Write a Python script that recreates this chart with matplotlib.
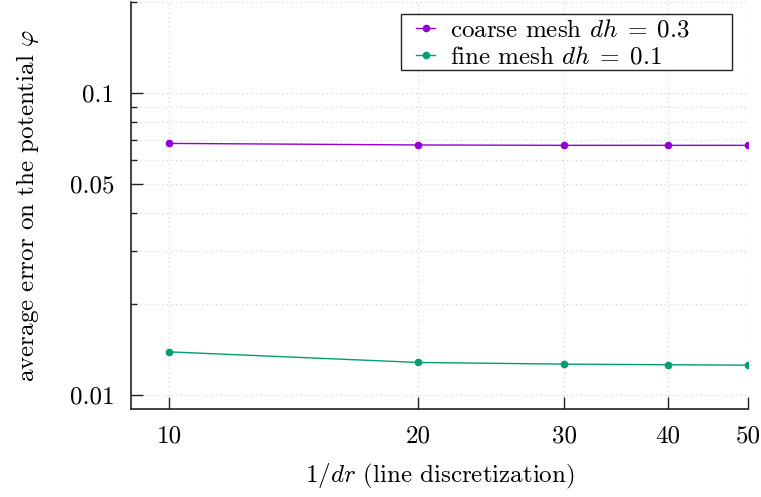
import matplotlib
matplotlib.use("Agg")
import matplotlib.pyplot as plt
from matplotlib.patches import Rectangle
from matplotlib.ticker import FixedLocator, NullLocator, NullFormatter

plt.rcParams['font.family'] = ['cmr10']
plt.rcParams['mathtext.fontset'] = 'cm'
plt.rcParams['axes.formatter.use_mathtext'] = True

x_vals = [10, 20, 30, 40, 50]
coarse = [0.0681, 0.0673, 0.0671, 0.0671, 0.0671]
fine = [0.01391, 0.01283, 0.01267, 0.01261, 0.01257]
x_ticks = [10, 20, 30, 40, 50]
x_ticklabels = ['10', '20', '30', '40', '50']
y_ticks = [0.01, 0.05, 0.1]
y_ticklabels = ['0.01', '0.05', '0.1']
y_minor = [0.02, 0.03, 0.04, 0.06, 0.07, 0.08, 0.09, 0.2]

purple = '#9400d3'
green = '#009e73'
FS = 18
W, H = 761, 497

fig = plt.figure(figsize=(7.61, 4.97), dpi=100)
ax = fig.add_axes([131/W, 1-409/H, (748-131)/W, (409-2)/H])
ax.set_xscale('log')
ax.set_yscale('log')

ax.plot(x_vals, coarse, '-o', color=purple, lw=1.0, ms=4.5,
        label=r'coarse mesh $dh\;=\;0.3$', zorder=3)
ax.plot(x_vals, fine, '-o', color=green, lw=1.0, ms=4.5,
        label=r'fine mesh $dh\;=\;0.1$', zorder=3)

ax.set_xlim(9.0, 50)
ax.set_ylim(0.009, 0.2)

ax.xaxis.set_major_locator(FixedLocator(x_ticks))
ax.xaxis.set_minor_locator(NullLocator())
ax.set_xticklabels(x_ticklabels)
ax.xaxis.set_minor_formatter(NullFormatter())
ax.yaxis.set_major_locator(FixedLocator(y_ticks))
ax.set_yticklabels(y_ticklabels)
ax.yaxis.set_minor_locator(FixedLocator(y_minor))
ax.yaxis.set_minor_formatter(NullFormatter())

ax.tick_params(which='major', direction='in', length=8.5, width=1.0,
               labelsize=FS, pad=12, color='#222222')
ax.tick_params(which='minor', direction='in', length=4.5, width=1.0,
               color='#222222')
ax.tick_params(axis='y', which='both', right=False)
ax.tick_params(axis='x', which='both', top=False)

gridkw = dict(color='#cfcfcf', ls=(0, (1, 3)), lw=0.8)
ax.grid(True, which='major', axis='x', **gridkw)
ax.grid(True, which='both', axis='y', **gridkw)

for s in ['top', 'right']:
    ax.spines[s].set_visible(False)
for s in ['left', 'bottom']:
    ax.spines[s].set_linewidth(1.2)
    ax.spines[s].set_color('#222222')

ax.set_xlabel(r'$1/dr$ (line discretization)', fontsize=FS, labelpad=10)
ax.set_ylabel(r'average error on the potential $\varphi$', fontsize=FS, labelpad=21)

# legend box (frame drawn separately, gnuplot style with wide right margin)
frame = Rectangle((401/W, 1-70/H), (732-401)/W, 56/H, transform=fig.transFigure,
                  facecolor='white', edgecolor='#222222', lw=1.0, zorder=4)
ax.add_patch(frame)
frame.set_clip_on(False)
leg = ax.legend(loc='upper left', bbox_to_anchor=(416/W, 1-19/H),
                bbox_transform=fig.transFigure, fontsize=FS, frameon=False,
                handlelength=0.76, handletextpad=0.6, borderpad=0.0,
                labelspacing=0.18, borderaxespad=0)
leg.set_zorder(5)

fig.savefig('out.png', dpi=100)
